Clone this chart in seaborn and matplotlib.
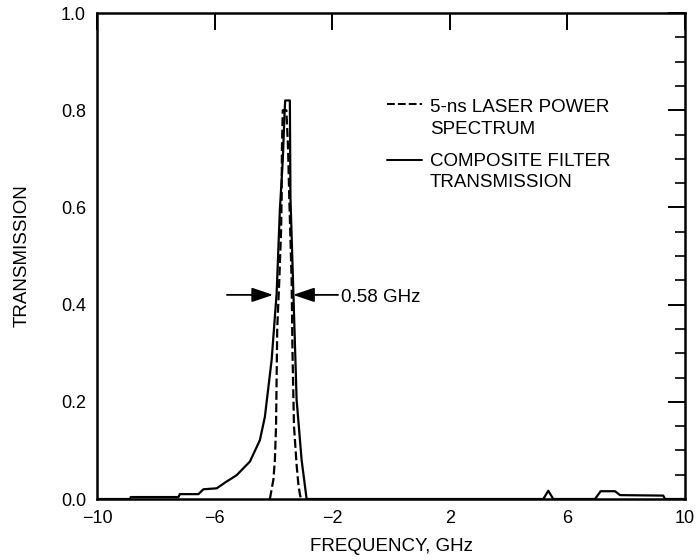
import matplotlib
matplotlib.use("Agg")
import matplotlib.pyplot as plt
import seaborn as sns
from matplotlib.ticker import MultipleLocator, FixedLocator

# ---- data ----
filter_freq = [-10.0, -8.88, -8.85, -7.23, -7.18, -6.55, -6.38, -5.93, -5.59, -5.25,
               -4.80, -4.46, -4.29, -4.06, -3.89, -3.78, -3.68, -3.63, -3.60, -3.44,
               -3.42, -3.32, -3.21, -3.04, -2.87, 5.18, 5.35, 5.52, 6.94, 7.13,
               7.62, 7.79, 9.26, 9.32, 10.0]
filter_trans = [0.0, 0.0, 0.004, 0.004, 0.010, 0.010, 0.020, 0.022, 0.036, 0.049,
                0.077, 0.121, 0.169, 0.286, 0.423, 0.595, 0.698, 0.78, 0.82, 0.82,
                0.62, 0.423, 0.204, 0.08, 0.0, 0.0, 0.017, 0.0, 0.0, 0.016,
                0.016, 0.008, 0.007, 0.0, 0.0]

laser_freq = [-4.12, -4.00, -3.95, -3.91, -3.89, -3.87, -3.80, -3.74, -3.72, -3.71,
              -3.68, -3.56, -3.50, -3.46, -3.38, -3.35, -3.30, -3.21, -3.15, -3.10, -3.06]
laser_trans = [0.0, 0.04, 0.08, 0.15, 0.25, 0.35, 0.45, 0.55, 0.62, 0.72,
               0.80, 0.80, 0.72, 0.62, 0.45, 0.30, 0.15, 0.07, 0.03, 0.01, 0.0]

x_ticks = [-10, -6, -2, 2, 6, 10]
y_ticks = [0.0, 0.2, 0.4, 0.6, 0.8, 1.0]
y_tick_labels = ["0.0", "0.2", "0.4", "0.6", "0.8", "1.0"]
legend_lines = [["5-ns LASER POWER", "SPECTRUM"], ["COMPOSITE FILTER", "TRANSMISSION"]]
fwhm_label = "0.58 GHz"
fwhm_level = 0.42
fwhm_left_tip = -4.01
fwhm_right_tip = -3.33
x_label = "FREQUENCY, GHz"
y_label = "TRANSMISSION"

# ---- styling ----
sns.set_theme(style="white")
plt.rcParams['font.family'] = ['Liberation Sans', 'DejaVu Sans']

fig = plt.figure(figsize=(6.97, 5.6), dpi=100)
ax = fig.add_axes([97 / 697, 1 - 499 / 560, 588 / 697, 486 / 560])

sns.lineplot(x=filter_freq, y=filter_trans, sort=False, estimator=None,
             color='black', linewidth=1.6, ax=ax)
sns.lineplot(x=laser_freq, y=laser_trans, sort=False, estimator=None,
             color='black', linewidth=1.6, linestyle=(0, (4, 1.6)), ax=ax)

ax.set_xlim(-10, 10)
ax.set_ylim(0, 1.0)

for s in ax.spines.values():
    s.set_visible(True)
    s.set_color('black')
    s.set_linewidth(1.8)

ax.xaxis.set_major_locator(FixedLocator(x_ticks))
ax.set_yticks(y_ticks)
ax.set_yticklabels(y_tick_labels)
ax.yaxis.set_minor_locator(MultipleLocator(0.05))
ax.tick_params(which='both', direction='in', top=True, right=True, color='black',
               labelcolor='black', labelsize=13)
ax.tick_params(which='major', length=12, width=1.4)
ax.tick_params(which='minor', length=7, width=1.2)
ax.tick_params(axis='x', which='major', pad=8)
ax.tick_params(axis='y', which='major', pad=8)

ax.set_xlabel(x_label, fontsize=13.5, color='black', labelpad=8)
ax.set_ylabel(y_label, fontsize=13.5, color='black', labelpad=22)

# FWHM arrows
arrow_style = '-|>,head_length=0.65,head_width=0.22'
ax.annotate("", xy=(fwhm_left_tip, fwhm_level), xytext=(fwhm_left_tip - 1.57, fwhm_level),
            arrowprops=dict(arrowstyle=arrow_style, color='black', lw=1.3,
                            shrinkA=0, shrinkB=0, mutation_scale=20))
ax.annotate("", xy=(fwhm_right_tip, fwhm_level), xytext=(fwhm_right_tip + 1.53, fwhm_level),
            arrowprops=dict(arrowstyle=arrow_style, color='black', lw=1.3,
                            shrinkA=0, shrinkB=0, mutation_scale=20))
ax.text(fwhm_right_tip + 1.64, 0.406, fwhm_label, fontsize=13.5, color='black',
        ha='left', va='baseline')

# legend drawn by hand (handle aligned with first text line)
tr = ax.transAxes
ax.plot([0.493, 0.553], [0.812, 0.812], transform=tr, color='black', lw=1.4,
        linestyle=(0, (4, 1.6)))
ax.plot([0.493, 0.553], [0.698, 0.698], transform=tr, color='black', lw=1.4)
for (l1, l2), y1, y2 in zip(legend_lines, [0.797, 0.686], [0.752, 0.642]):
    ax.text(0.566, y1, l1, transform=tr, fontsize=13.5, color='black', ha='left', va='baseline')
    ax.text(0.566, y2, l2, transform=tr, fontsize=13.5, color='black', ha='left', va='baseline')

fig.savefig("out.png", dpi=100, facecolor='white')
